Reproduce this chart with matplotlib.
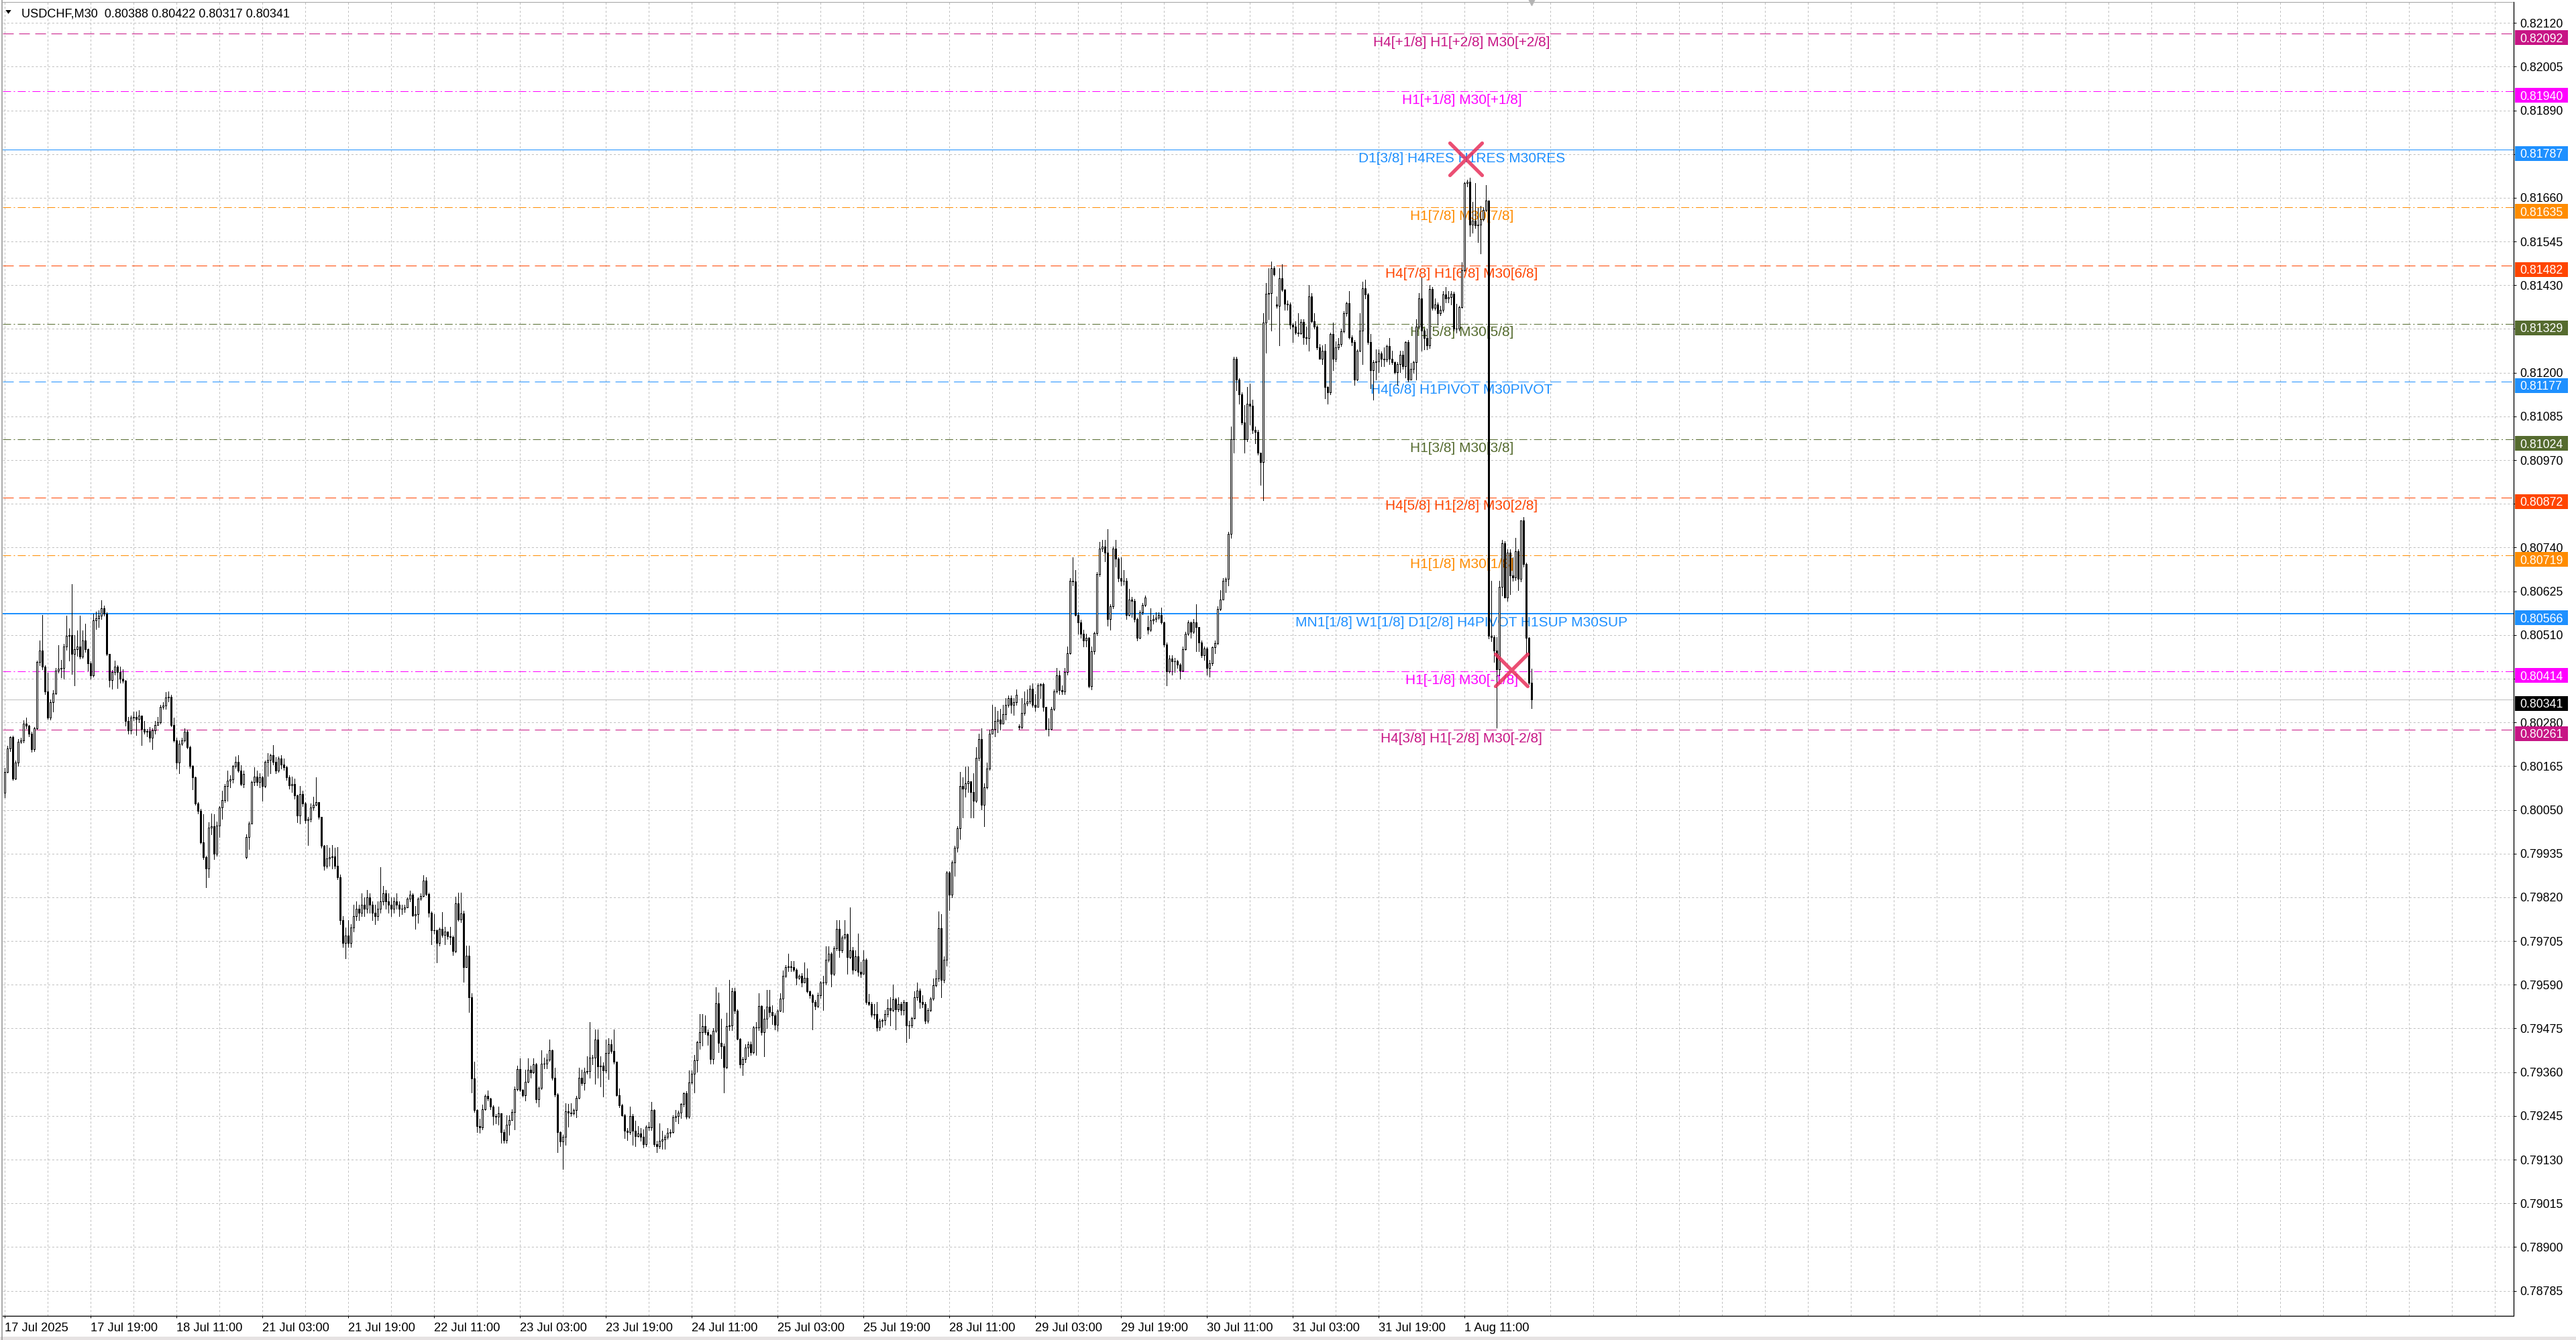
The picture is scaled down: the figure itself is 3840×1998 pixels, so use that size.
import numpy as np
import matplotlib
matplotlib.use("Agg")
import matplotlib.pyplot as plt
import matplotlib.transforms as mtransforms
from matplotlib.patches import Rectangle, Polygon
from matplotlib.lines import Line2D
from matplotlib.markers import MarkerStyle
from matplotlib.ticker import FixedLocator, MultipleLocator

# USDCHF M30 bars, prices in 1e-5 (open = previous close)
first_open = 80095
closes = [
80150,80212,80241,80132,80174,80230,80233,80277,80271,80250,
80209,80265,80439,80469,80427,80362,80292,80333,80357,80416,
80421,80424,80480,80507,80510,80460,80472,80480,80454,80495,
80472,80436,80404,80548,80554,80560,80581,80566,80460,80392,
80413,80427,80413,80395,80389,80283,80259,80292,80295,80289,
80298,80262,80256,80257,80239,80259,80274,80280,80321,80324,
80345,80348,80274,80233,80174,80224,80233,80256,80215,80165,
80135,80067,80047,79964,79926,79896,80003,80006,79935,80008,
80056,80076,80112,80126,80130,80165,80177,80153,80118,80144,
79979,80014,80124,80138,80124,80135,80112,80177,80182,80194,
80177,80153,80185,80170,80162,80135,80115,80118,80088,80035,
80091,80067,80023,80026,80056,80064,80070,80032,79955,79902,
79923,79925,79928,79902,79873,79760,79700,79720,79700,79740,
79770,79790,79780,79800,79790,79820,79800,79780,79770,79790,
79810,79830,79810,79800,79790,79810,79800,79790,79790,79794,
79816,79827,79773,79775,79816,79824,79864,79829,79780,79734,
79733,79699,79737,79721,79729,79718,79715,79678,79804,79761,
79778,79636,79666,79557,79343,79260,79219,79214,79262,79297,
79290,79269,79244,79243,79252,79202,79181,79221,79235,79256,
79316,79369,79314,79300,79335,79366,79360,79380,79288,79319,
79382,79383,79393,79417,79345,79301,79202,79178,79190,79257,
79254,79252,79261,79292,79345,79331,79361,79363,79399,79398,
79445,79376,79377,79364,79410,79434,79415,79388,79300,79273,
79247,79206,79203,79244,79206,79192,79199,79190,79170,79216,
79214,79261,79171,79165,79180,79183,79190,79200,79202,79241,
79244,79254,79276,79304,79243,79333,79355,79391,79439,79465,
79481,79465,79458,79395,79469,79541,79437,79429,79374,79481,
79483,79573,79521,79448,79380,79394,79424,79434,79412,79478,
79478,79534,79465,79500,79532,79519,79510,79484,79522,79554,
79613,79637,79638,79636,79630,79608,79613,79596,79608,79573,
79562,79545,79534,79562,79596,79596,79656,79671,79618,79686,
79737,79680,79714,79722,79663,79680,79630,79664,79624,79618,
79656,79545,79540,79511,79512,79478,79495,79497,79512,79528,
79523,79551,79525,79540,79523,79545,79483,79483,79502,79557,
79575,79545,79540,79495,79523,79554,79588,79607,79739,79602,
79656,79885,79827,79911,79950,80001,80113,80106,80119,80125,
80096,80074,80187,80237,80063,80110,80158,80251,80263,80284,
80288,80277,80302,80327,80344,80327,80333,80353,80268,80305,
80329,80335,80369,80327,80321,80378,80380,80321,80263,80262,
80316,80361,80403,80365,80361,80412,80462,80653,80650,80563,
80544,80513,80496,80502,80376,80468,80515,80670,80738,80743,
80727,80552,80586,80738,80710,80659,80653,80653,80563,80603,
80600,80552,80502,80569,80589,80608,80524,80549,80552,80555,
80563,80544,80485,80414,80448,80440,80440,80432,80417,80473,
80513,80544,80518,80544,80530,80490,80457,80475,80423,80436,
80477,80488,80578,80603,80652,80657,80776,81024,81237,81182,
81143,81068,81024,81118,81113,81049,81044,80989,80964,81331,
81408,81410,81475,81458,81376,81448,81418,81381,81379,81326,
81321,81306,81303,81333,81293,81291,81400,81336,81321,81267,
81237,81257,81163,81148,81301,81237,81267,81276,81309,81356,
81383,81293,81281,81182,81257,81311,81422,81405,81281,81207,
81227,81230,81250,81237,81234,81270,81237,81227,81202,81222,
81247,81217,81281,81182,81210,81227,81321,81395,81311,81291,
81271,81420,81371,81380,81356,81366,81405,81395,81398,81408,
81316,81316,81373,81470,81698,81703,81589,81599,81587,81589,
81604,81628,81653,80508,80504,80469,80419,80637,80751,80609,
80726,80667,80662,80731,80657,80811,80697,80503,80385,80341,
]
highs = [
80160,80218,80244,80245,80180,80236,80240,80286,80293,80274,
80255,80268,80442,80495,80563,80430,80410,80340,80365,80424,
80483,80445,80486,80560,80528,80643,80510,80522,80560,80522,
80539,80475,80440,80566,80572,80575,80601,80587,80570,80460,
80418,80442,80430,80427,80420,80392,80295,80298,80309,80309,
80312,80298,80283,80262,80268,80265,80283,80295,80327,80333,
80360,80362,80352,80292,80240,80233,80240,80265,80260,80218,
80168,80138,80070,80052,80038,79930,80017,80041,80038,80020,
80060,80100,80118,80153,80141,80168,80191,80193,80168,80153,
79985,80020,80126,80162,80153,80147,80140,80180,80200,80197,
80221,80189,80191,80194,80185,80165,80141,80138,80132,80090,
80112,80100,80070,80032,80067,80085,80135,80070,80032,79958,
79958,79950,79958,79950,79952,79880,79770,79740,79760,79750,
79800,79810,79800,79830,79820,79840,79830,79810,79800,79810,
79900,79850,79840,79830,79820,79820,79830,79810,79800,79800,
79820,79838,79830,79797,79819,79830,79878,79873,79832,79782,
79775,79735,79740,79781,79743,79730,79743,79720,79822,79832,
79832,79785,79693,79693,79567,79388,79262,79238,79275,79301,
79311,79292,79273,79250,79270,79252,79209,79247,79247,79263,
79322,79377,79396,79316,79367,79396,79377,79396,79384,79322,
79418,79399,79409,79445,79420,79371,79305,79205,79195,79279,
79276,79279,79265,79298,79371,79367,79371,79402,79491,79405,
79472,79472,79402,79385,79446,79450,79446,79472,79388,79317,
79276,79250,79213,79270,79250,79232,79219,79213,79210,79220,
79228,79282,79262,79180,79225,79206,79195,79213,79210,79247,
79260,79258,79279,79307,79310,79364,79364,79405,79443,79513,
79513,79510,79472,79460,79475,79584,79570,79500,79435,79516,
79603,79582,79582,79525,79450,79400,79434,79440,79440,79481,
79491,79567,79535,79525,79576,79576,79535,79515,79525,79567,
79627,79642,79671,79653,79652,79632,79617,79620,79649,79633,
79575,79565,79550,79570,79600,79613,79691,79691,79675,79691,
79759,79759,79720,79759,79725,79793,79690,79680,79725,79650,
79680,79660,79565,79545,79540,79545,79500,79500,79523,79551,
79557,79590,79555,79557,79545,79550,79545,79495,79505,79573,
79596,79580,79562,79545,79528,79557,79607,79630,79782,79776,
79665,79888,79888,79917,79956,80006,80150,80136,80164,80164,
80125,80147,80215,80250,80265,80119,80175,80260,80327,80321,
80310,80316,80327,80344,80350,80350,80344,80367,80275,80344,
80361,80367,80378,80383,80355,80383,80383,80385,80321,80290,
80320,80367,80423,80417,80378,80423,80479,80659,80715,80681,
80569,80550,80524,80513,80505,80479,80518,80676,80755,80760,
80760,80788,80590,80743,80760,80715,80715,80681,80660,80631,
80610,80605,80555,80575,80595,80614,80560,80580,80563,80569,
80569,80582,80545,80490,80457,80457,80450,80445,80435,80479,
80518,80549,80545,80552,80591,80530,80495,80480,80478,80445,
80479,80496,80586,80627,80660,80662,80781,81058,81242,81242,
81185,81148,81115,81163,81172,81128,81058,81049,80990,81356,
81435,81475,81492,81480,81400,81475,81485,81420,81390,81385,
81330,81336,81356,81341,81341,81321,81430,81410,81356,81325,
81276,81272,81276,81165,81306,81331,81282,81291,81316,81361,
81386,81415,81298,81285,81262,81356,81440,81445,81410,81301,
81233,81262,81262,81255,81267,81274,81291,81257,81230,81227,
81257,81257,81283,81285,81225,81232,81341,81410,81450,81315,
81315,81430,81425,81395,81385,81376,81415,81425,81415,81415,
81412,81381,81376,81490,81703,81708,81713,81650,81698,81633,
81638,81635,81693,81653,80652,80510,80504,80652,80761,80756,
80736,80736,80715,80766,80736,80811,80821,80700,80505,80422,
]
lows = [
80082,80148,80205,80129,80130,80165,80225,80228,80265,80244,
80203,80205,80262,80430,80420,80354,80289,80287,80309,80355,
80410,80398,80395,80470,80442,80407,80377,80455,80448,80450,
80465,80416,80395,80400,80525,80530,80552,80560,80457,80374,
80368,80405,80370,80385,80385,80271,80250,80250,80285,80247,
80280,80221,80250,80244,80230,80209,80250,80274,80277,80315,
80315,80335,80270,80230,80159,80147,80220,80230,80212,80160,
80103,80064,80040,79961,79920,79846,79873,79985,79920,79930,
79979,80026,80070,80073,80110,80122,80160,80150,80115,80109,
79923,79946,80062,80115,80115,80110,80073,80109,80140,80147,
80170,80147,80150,80159,80155,80129,80106,80097,80080,80017,
80014,80060,80015,79958,80020,80050,80062,80026,79950,79893,
79898,79902,79896,79895,79868,79750,79690,79660,79690,79690,
79730,79760,79760,79770,79770,79780,79780,79760,79750,79760,
79780,79800,79790,79780,79770,79780,79790,79770,79775,79781,
79794,79810,79770,79737,79753,79812,79822,79825,79769,79696,
79725,79649,79693,79715,79696,79710,79696,79668,79675,79758,
79755,79598,79636,79519,79307,79255,79203,79200,79210,79260,
79285,79263,79222,79225,79222,79175,79175,79175,79196,79235,
79209,79312,79310,79295,79285,79333,79345,79358,79280,79269,
79315,79370,79370,79390,79340,79295,79149,79165,79105,79168,
79216,79245,79248,79241,79290,79326,79314,79355,79345,79380,
79329,79345,79323,79295,79360,79342,79410,79383,79298,79268,
79244,79187,79181,79197,79168,79165,79190,79180,79162,79165,
79208,79208,79165,79149,79160,79159,79159,79185,79190,79200,
79230,79225,79240,79270,79238,79240,79330,79307,79361,79421,
79430,79460,79431,79383,79383,79465,79412,79396,79307,79370,
79470,79470,79515,79446,79371,79352,79385,79402,79405,79408,
79405,79470,79459,79402,79475,79506,79487,79472,79469,79520,
79519,79610,79625,79625,79625,79590,79605,79585,79596,79570,
79555,79472,79525,79530,79555,79523,79590,79650,79585,79615,
79680,79663,79675,79710,79618,79660,79618,79628,79613,79610,
79618,79540,79535,79505,79500,79469,79470,79480,79485,79505,
79483,79520,79472,79520,79511,79511,79438,79450,79478,79500,
79550,79528,79530,79489,79490,79520,79550,79585,79600,79557,
79595,79640,79787,79820,79877,79939,79973,80029,80085,80096,
80029,80029,80070,80180,80051,80006,80105,80155,80250,80243,
80254,80260,80277,80288,80320,80305,80299,80327,80262,80265,
80300,80325,80330,80321,80310,80320,80344,80310,80260,80245,
80260,80312,80358,80355,80355,80355,80405,80460,80640,80560,
80513,80502,80479,80479,80372,80366,80460,80510,80665,80730,
80704,80535,80524,80580,80690,80650,80640,80642,80552,80560,
80558,80545,80496,80500,80565,80585,80513,80520,80540,80545,
80552,80540,80479,80378,80410,80406,80412,80423,80395,80415,
80470,80510,80502,80515,80468,80468,80451,80445,80406,80400,
80430,80462,80485,80575,80603,80622,80640,80766,80989,81153,
81118,81063,80989,81020,81063,81040,81014,80984,80905,80865,
81252,81341,81311,81455,81371,81272,81415,81366,81366,81316,
81281,81301,81296,81301,81276,81276,81257,81331,81315,81262,
81237,81222,81133,81118,81143,81207,81230,81262,81270,81305,
81350,81290,81272,81167,81180,81255,81222,81395,81276,81158,
81128,81182,81202,81217,81217,81230,81222,81222,81197,81167,
81202,81210,81187,81177,81182,81200,81182,81315,81257,81262,
81262,81265,81366,81366,81326,81351,81360,81385,81385,81380,
81311,81306,81310,81370,81465,81690,81559,81569,81580,81544,
81514,81600,81625,80500,80494,80439,80266,80404,80613,80608,
80600,80617,80652,80655,80627,80650,80690,80459,80380,80317,
]
# bars that open away from the previous close (weekend / rollover)
gap_opens = {90: 79926, 378: 80270, 426: 80530, 474: 81380}

header = "USDCHF,M30  0.80388 0.80422 0.80317 0.80341"
last_price = 0.80341

level_prices = [0.82092, 0.81940, 0.81787, 0.81635, 0.81482, 0.81329, 0.81177,
                0.81024, 0.80872, 0.80719, 0.80566, 0.80414, 0.80261]
level_colors = ["#C71585", "#FF00FF", "#1E90FF", "#FF8C00", "#FF4500", "#556B2F", "#1E90FF",
                "#556B2F", "#FF4500", "#FF8C00", "#1E90FF", "#FF00FF", "#C71585"]
level_styles = ["dash", "dashdot", "solid", "dashdot", "dash", "dashdot", "dash",
                "dashdot", "dash", "dashdot", "solid", "dashdot", "dash"]
level_widths = [1, 1, 1, 1, 1, 1, 1, 1, 1, 1, 2, 1, 1]
level_texts = ["H4[+1/8] H1[+2/8] M30[+2/8]", "H1[+1/8] M30[+1/8]", "D1[3/8] H4RES H1RES M30RES",
               "H1[7/8] M30[7/8]", "H4[7/8] H1[6/8] M30[6/8]", "H1[5/8] M30[5/8]",
               "H4[6/8] H1PIVOT M30PIVOT", "H1[3/8] M30[3/8]", "H4[5/8] H1[2/8] M30[2/8]",
               "H1[1/8] M30[1/8]", "MN1[1/8] W1[1/8] D1[2/8] H4PIVOT H1SUP M30SUP",
               "H1[-1/8] M30[-1/8]", "H4[3/8] H1[-2/8] M30[-2/8]"]
label_bar = 543

cross_x = [544.5, 561.6]
cross_y = [0.81763, 0.80418]

xtick_labels = ["17 Jul 2025", "17 Jul 19:00", "18 Jul 11:00", "21 Jul 03:00", "21 Jul 19:00",
                "22 Jul 11:00", "23 Jul 03:00", "23 Jul 19:00", "24 Jul 11:00", "25 Jul 03:00",
                "25 Jul 19:00", "28 Jul 11:00", "29 Jul 03:00", "29 Jul 19:00", "30 Jul 11:00",
                "31 Jul 03:00", "31 Jul 19:00", "1 Aug 11:00"]
ytick_values = [0.82120, 0.82005, 0.81890, 0.81775, 0.81660, 0.81545, 0.81430, 0.81315,
                0.81200, 0.81085, 0.80970, 0.80855, 0.80740, 0.80625, 0.80510, 0.80395,
                0.80280, 0.80165, 0.80050, 0.79935, 0.79820, 0.79705, 0.79590, 0.79475,
                0.79360, 0.79245, 0.79130, 0.79015, 0.78900, 0.78785]
# scale values whose label sits fully under a level price box
ytick_hidden = [0.81775, 0.81315, 0.80855, 0.80395]

plt.rcParams["font.family"] = ["Liberation Sans", "DejaVu Sans"]
plt.rcParams["lines.scale_dashes"] = False

W, H = 3840, 1998
PX = 0.72  # one pixel in points at dpi 100
YLO, YHI = 0.78719, 0.82175
PXD = (YHI - YLO) / 1959  # price per pixel

c = np.array(closes) / 1e5
h = np.array(highs) / 1e5
l = np.array(lows) / 1e5
o = np.concatenate([[first_open], closes[:-1]]).astype(float)
for k, v in gap_opens.items():
    o[k] = v
o = o / 1e5
x = np.arange(len(c))

fig = plt.figure(figsize=(W / 100, H / 100), dpi=100)
ax = fig.add_axes([4 / W, 36 / H, 3742.5 / W, 1959 / H])
ax.set_xlim(-0.65, 934.85)
ax.set_ylim(YLO, YHI)

# scales and grid
ax.set_axisbelow("line")
ax.xaxis.set_major_locator(FixedLocator(np.arange(len(xtick_labels)) * 32))
ax.xaxis.set_minor_locator(MultipleLocator(16))
ax.set_xticklabels(xtick_labels)
ax.yaxis.tick_right()
ax.set_yticks(ytick_values)
ax.set_yticklabels(["" if v in ytick_hidden else f"{v:.5f}" for v in ytick_values])
grid_kw = dict(color="#C0C0C0", lw=PX, dashes=(2.2, 2.2))
ax.grid(True, which="both", axis="x", **grid_kw)
ax.grid(True, which="major", axis="y", **grid_kw)
ax.tick_params(axis="x", which="major", length=3 * PX, width=PX, pad=5, labelsize=13.2)
ax.tick_params(axis="x", which="minor", length=0)
ax.tick_params(axis="y", which="major", length=4 * PX, width=PX, pad=4, labelsize=12.8,
               right=True, left=False, labelright=True, labelleft=False)
for lbl in ax.get_xticklabels():
    lbl.set_horizontalalignment("left")

ax.spines["left"].set_visible(False)
ax.spines["top"].set_color("#A8A8A8")
ax.spines["right"].set_linewidth(PX * 1.3)
ax.spines["bottom"].set_linewidth(PX * 1.3)

# levels
styles = {"dash": (0, (11.5, 5.8)), "dashdot": (0, (8.6, 2.9, 1.4, 2.9)), "solid": "-"}
for p, col, st, w, txt in zip(level_prices, level_colors, level_styles, level_widths, level_texts):
    ax.axhline(p, color=col, lw=w * PX, linestyle=styles[st], zorder=1.8)
    ax.annotate(txt, (label_bar, p), xytext=(0, -13.4), textcoords="offset points",
                ha="center", va="baseline", fontsize=15.0, color=col, zorder=1.9)
ax.axhline(last_price, color="#C0C0C0", lw=PX, zorder=1.8)

# candles
up = c >= o
ax.vlines(x, l, h, color="black", lw=PX, zorder=3, antialiased=False)
ax.bar(x, np.abs(c - o), bottom=np.minimum(o, c), width=0.5,
       color=np.where(up, "white", "black"), edgecolor="black", linewidth=PX,
       zorder=3.1, antialiased=False)

# crosses
ax.plot(cross_x, cross_y, ls="none", marker=MarkerStyle("x", capstyle="round"),
        ms=34, mew=3.8, color="#E8305A", alpha=0.85, zorder=4)

# chart-shift marker at the last bar
ax.plot([x[-1]], [YHI], marker="v", ms=7, color="#B4B4B4", clip_on=False, zorder=4)

# price boxes on the right scale (drawn a few pixels under their line, as the terminal does)
tr = mtransforms.blended_transform_factory(ax.transAxes, ax.transData)
box_h = 22 * PXD
box_shift = 6 * PXD
bx0 = (3749 - 4) / 3742.5
bw = 79 / 3742.5
tx = (3756 - 4) / 3742.5
boxes = list(zip(level_prices, level_colors)) + [(last_price, "black")]
for p, col in boxes:
    yc = p - box_shift
    ax.add_patch(Rectangle((bx0, yc - box_h / 2), bw, box_h, transform=tr, facecolor=col,
                           edgecolor="none", clip_on=False, zorder=5))
    ax.text(tx, yc, f"{p:.5f}", transform=tr, color="white", fontsize=12.8, ha="left",
            va="center_baseline", clip_on=False, zorder=6)

# window chrome and header
fig.add_artist(Line2D([3 / W, 3 / W], [0, 1], color="#909090", lw=1.5 * PX))
fig.add_artist(Rectangle((0, 0), 1, 5 / H, facecolor="#E6E2E2", edgecolor="none"))
fig.add_artist(Polygon([[8.3 / W, 1 - 15 / H], [16.7 / W, 1 - 15 / H], [12.5 / W, 1 - 20.7 / H]],
                       closed=True, facecolor="black", edgecolor="none"))
fig.text(32.3 / W, 1 - 26 / H, header, fontsize=13.1, ha="left", va="baseline")

fig.savefig("out.png", dpi=100, facecolor="white")
